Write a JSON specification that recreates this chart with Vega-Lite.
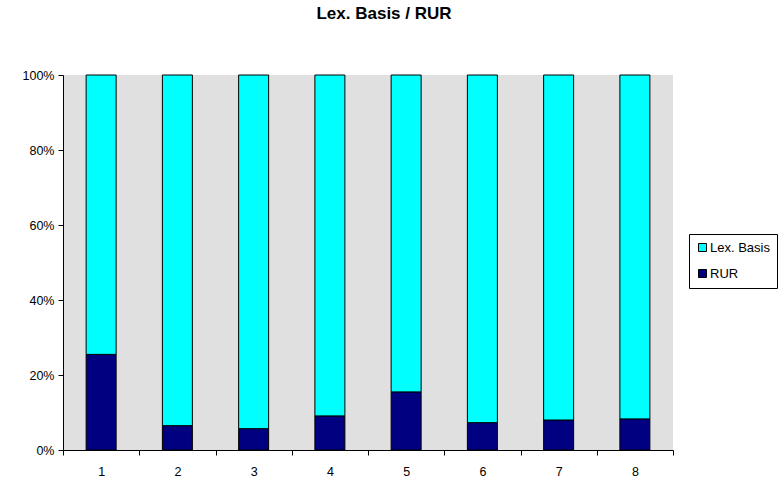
{
  "$schema": "https://vega.github.io/schema/vega-lite/v6.json",
  "width": 610,
  "height": 375,
  "autosize": "none",
  "padding": {"left": 63, "top": 75, "right": 107, "bottom": 31},
  "background": "white",
  "title": {
    "text": "Lex. Basis / RUR",
    "font": "Liberation Sans",
    "fontSize": 17,
    "fontWeight": "bold",
    "color": "black",
    "anchor": "middle",
    "offset": 46,
    "dx": 16
  },
  "config": {
    "view": {"fill": "#e0e0e0", "stroke": null},
    "font": "Liberation Sans"
  },
  "data": {
    "values": [
      {"cat": "1", "series": "RUR", "value": 25.5},
      {"cat": "2", "series": "RUR", "value": 6.5},
      {"cat": "3", "series": "RUR", "value": 5.7},
      {"cat": "4", "series": "RUR", "value": 9.1},
      {"cat": "5", "series": "RUR", "value": 15.5},
      {"cat": "6", "series": "RUR", "value": 7.3},
      {"cat": "7", "series": "RUR", "value": 8.0},
      {"cat": "8", "series": "RUR", "value": 8.3},
      {"cat": "1", "series": "Lex. Basis", "value": 74.5},
      {"cat": "2", "series": "Lex. Basis", "value": 93.5},
      {"cat": "3", "series": "Lex. Basis", "value": 94.3},
      {"cat": "4", "series": "Lex. Basis", "value": 90.9},
      {"cat": "5", "series": "Lex. Basis", "value": 84.5},
      {"cat": "6", "series": "Lex. Basis", "value": 92.7},
      {"cat": "7", "series": "Lex. Basis", "value": 92.0},
      {"cat": "8", "series": "Lex. Basis", "value": 91.7}
    ]
  },
  "transform": [
    {"calculate": "datum.series === 'RUR' ? 0 : 1", "as": "ord"}
  ],
  "mark": {"type": "bar", "size": 30, "stroke": "black", "strokeWidth": 1},
  "encoding": {
    "x": {
      "field": "cat",
      "type": "ordinal",
      "scale": {"paddingInner": 0, "paddingOuter": 0},
      "axis": {
        "title": null,
        "labelAngle": 0,
        "tickBand": "extent",
        "domainColor": "black",
        "tickColor": "black",
        "tickSize": 5,
        "labelColor": "black",
        "labelFontSize": 12.5,
        "labelPadding": 10
      }
    },
    "y": {
      "field": "value",
      "type": "quantitative",
      "stack": "normalize",
      "scale": {"domain": [0, 1]},
      "axis": {
        "title": null,
        "format": "%",
        "values": [0, 0.2, 0.4, 0.6, 0.8, 1],
        "grid": false,
        "domainColor": "black",
        "tickColor": "black",
        "tickSize": 5,
        "labelColor": "black",
        "labelFontSize": 12.5,
        "labelPadding": 4
      }
    },
    "color": {
      "field": "series",
      "type": "nominal",
      "scale": {"domain": ["Lex. Basis", "RUR"], "range": ["#00FFFF", "#000080"]},
      "legend": {
        "title": null,
        "orient": "none",
        "legendX": 626,
        "legendY": 159,
        "strokeColor": "black",
        "fillColor": "white",
        "padding": 7,
        "symbolType": "square",
        "symbolSize": 64,
        "symbolStrokeColor": "black",
        "symbolStrokeWidth": 1,
        "labelFontSize": 13,
        "labelColor": "black",
        "labelOffset": 1,
        "rowPadding": 12
      }
    },
    "order": {"field": "ord", "type": "quantitative"}
  }
}
